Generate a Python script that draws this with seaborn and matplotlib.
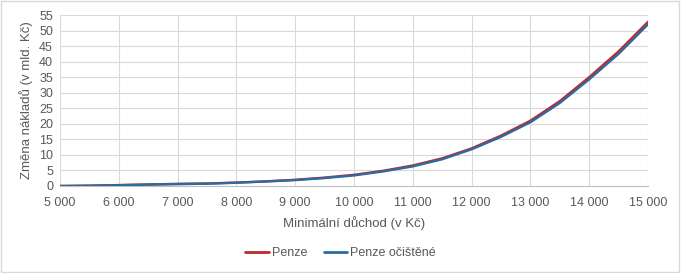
import matplotlib
matplotlib.use("Agg")
import matplotlib.pyplot as plt
import seaborn as sns
import pandas as pd
from matplotlib.patches import Rectangle
from matplotlib.lines import Line2D

minimalni_duchod = [5000, 5500, 6000, 6500, 7000, 7500, 8000, 8500, 9000, 9500,
                    10000, 10500, 11000, 11500, 12000, 12500, 13000, 13500, 14000, 14500, 15000]
penze = [0.0, 0.1, 0.3, 0.5, 0.7, 0.8, 1.1, 1.5, 2.0, 2.7,
         3.6, 4.9, 6.6, 8.9, 12.1, 16.2, 21.0, 27.3, 35.0, 43.3, 52.8]
penze_ocistene = [0.0, 0.1, 0.25, 0.45, 0.6, 0.75, 1.05, 1.45, 1.9, 2.55,
                  3.4, 4.7, 6.3, 8.6, 11.8, 15.8, 20.5, 26.7, 34.3, 42.5, 52.0]
series_names = ["Penze", "Penze očištěné"]
colors = ["#C0282D", "#2E6A9E"]

df = pd.DataFrame({
    "x": minimalni_duchod * 2,
    "y": penze + penze_ocistene,
    "serie": [series_names[0]] * len(penze) + [series_names[1]] * len(penze_ocistene),
})

sns.set_theme(style="white")
plt.rcParams['font.family'] = ['Liberation Sans', 'DejaVu Sans']

fig = plt.figure(figsize=(6.81, 2.73), dpi=100)
ax = fig.add_axes([60/681, 1-186/273, (648-60)/681, (186-15)/273])

sns.lineplot(data=df, x="x", y="y", hue="serie", palette=colors, linewidth=1.7,
             ax=ax, legend=False, zorder=3)

ax.set_xlim(5000, 15000)
ax.set_ylim(0, 55)
ax.set_xticks(range(5000, 15001, 1000))
ax.set_xticklabels([f"{v:,}".replace(",", " ") for v in range(5000, 15001, 1000)])
ax.set_yticks(range(0, 56, 5))
ax.grid(True, color="#d9d9d9", linewidth=0.8, zorder=0)
for s in ["top", "right", "left"]:
    ax.spines[s].set_visible(False)
ax.spines["bottom"].set_color("#bfbfbf")
ax.spines["bottom"].set_linewidth(0.8)
ax.tick_params(axis="both", colors="#595959", labelsize=9, length=0)
ax.tick_params(axis="x", pad=8)
ax.tick_params(axis="y", pad=5)
ax.set_xlabel("Minimální důchod (v Kč)", color="#595959", fontsize=9.5, labelpad=5)
ax.set_ylabel("Změna nákladů (v mld. Kč)", color="#595959", fontsize=9.5, labelpad=4)

handles = [Line2D([], [], color=c, linewidth=2) for c in colors]
fig.legend(handles, series_names, loc="center", bbox_to_anchor=(0.5, 1-253/273),
           ncol=2, frameon=False, fontsize=9, labelcolor="#595959",
           handlelength=1.9, handletextpad=0.25, columnspacing=1.3)

fig.patches.append(Rectangle((0.002, 0.004), 0.995, 0.992, transform=fig.transFigure,
                             fill=False, edgecolor="#d9d9d9", linewidth=1))

fig.savefig("out.png", dpi=100)
